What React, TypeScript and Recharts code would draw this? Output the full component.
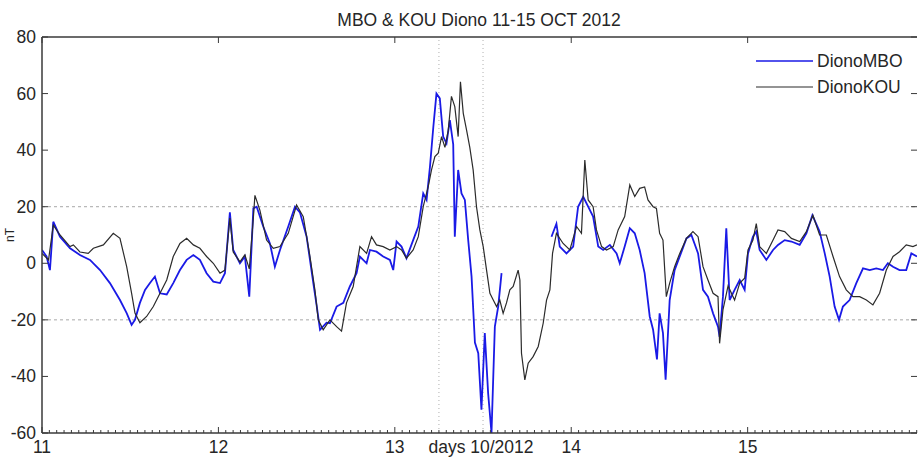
import React from 'react';
import { LineChart, Line, XAxis, YAxis, ReferenceLine } from 'recharts';

const chartTitle = 'MBO & KOU Diono 11-15 OCT 2012';
const xAxisLabel = 'days 10/2012';
const yAxisLabel = 'nT';
const seriesNames = ['DionoMBO', 'DionoKOU'];
const dayTicks = [11, 12, 13, 14, 15];
const yTicks = [-60, -40, -20, 0, 20, 40, 60, 80];
const xDomain = [11, 15.96];
const yDomain = [-60, 80];
const dashedLevels = [20, -20];
const markerDays = [13.25, 13.5];

const mboDays = [
  11.0, 11.026, 11.045, 11.064, 11.102, 11.159, 11.215, 11.272, 11.329, 11.385,
  11.442, 11.48, 11.508, 11.527, 11.555, 11.584, 11.612, 11.64, 11.669, 11.707,
  11.744, 11.782, 11.82, 11.858, 11.895, 11.933, 11.971, 12.009, 12.037, 12.065,
  12.084, 12.122, 12.15, 12.175, 12.198, 12.217, 12.254, 12.292, 12.32, 12.349,
  12.396, 12.434, 12.462, 12.5, 12.538, 12.557, 12.576, 12.613, 12.632, 12.67,
  12.708, 12.745, 12.783, 12.802, 12.84, 12.859, 12.896, 12.934, 12.972, 12.991,
  13.01, 13.038, 13.066, 13.104, 13.133, 13.161, 13.18, 13.199, 13.218, 13.236,
  13.255, 13.274, 13.293, 13.312, 13.331, 13.34, 13.359, 13.378, 13.397, 13.416,
  13.435, 13.454, 13.473, 13.491, 13.51, 13.529, 13.548, 13.567, 13.586, 13.605,
  13.75,
  13.888, 13.916, 13.935, 13.973, 14.011, 14.039, 14.068, 14.096, 14.124, 14.153,
  14.181, 14.219, 14.257, 14.275, 14.303, 14.332, 14.36, 14.388, 14.416, 14.445,
  14.464, 14.486, 14.501, 14.52, 14.535, 14.558, 14.586, 14.615, 14.653, 14.681,
  14.719, 14.747, 14.775, 14.804, 14.832, 14.841, 14.86, 14.879, 14.898, 14.926,
  14.955, 14.983, 15.002, 15.03, 15.049, 15.068, 15.106, 15.144, 15.172, 15.21,
  15.248, 15.295, 15.333, 15.367, 15.408, 15.437, 15.465, 15.493, 15.518, 15.54,
  15.578, 15.616, 15.654, 15.692, 15.729, 15.767, 15.795, 15.824, 15.861, 15.899,
  15.928, 15.96,
];
const mboValues = [
  4.7, 2.4, -2.4, 14.7, 9.4, 5.3, 2.9, 1.2, -2.4, -7,
  -13, -17.6, -21.8, -20, -14, -9.4, -7, -4.7, -10.6, -11,
  -7, -2.4, 1.2, 2.9, 1.2, -3.5, -6.5, -7, -3.5, 18,
  4.7, 0, 2.4, -11.8, 19.4, 20, 13, 7, -1.2, 4.7,
  13, 20, 18, 9.4, -7, -15, -23.5, -21, -21.2, -15.3,
  -14, -8.2, -3.5, 2.4, 0, 4.7, 4.1, 2.4, 1.2, -2.4,
  7.7, 5.9, 1.8, 8.2, 13, 24.7, 22.4, 34, 48, 60,
  58.3, 44.8, 42.4, 50.6, 42, 9.4, 33, 24.7, 22.4, 8.2,
  -4.7, -28, -31.8, -51.8, -24.7, -46, -60, -22.4, -15.3, -3.5,
  null,
  9.4, 14, 5.9, 3.5, 5.9, 20, 23.5, 20, 16.5, 5.9,
  4.7, 6.5, 3.5, 0, 5.9, 12.4, 10.6, 4.7, -3.5, -18.8,
  -23.5, -34, -17.7, -24.7, -41.2, -13, -2.4, 2.4, 8.8, 10,
  3.5, -9.4, -11.8, -17.7, -22.4, -26, -11.8, 12.4, -13, -9.4,
  -5.9, -9.4, 3.5, 9.4, 11.2, 4.7, 1.2, 4.7, 6.5, 8.2,
  7.7, 6.5, 10.6, 17, 11.2, 3.5, -4.7, -15.3, -20, -15.3,
  -13, -7, -1.8, -2.4, -1.8, -2.4, 0, -1.2, -2.4, -2.4,
  3.5, 2.4,
];

const kouDays = [
  11.0, 11.037, 11.064, 11.102, 11.159, 11.178, 11.215, 11.262, 11.291, 11.348,
  11.404, 11.442, 11.48, 11.508, 11.527, 11.555, 11.593, 11.631, 11.669, 11.707,
  11.744, 11.782, 11.82, 11.858, 11.895, 11.933, 11.971, 12.009, 12.037, 12.065,
  12.084, 12.122, 12.15, 12.175, 12.198, 12.207, 12.235, 12.273, 12.311, 12.349,
  12.396, 12.443, 12.481, 12.519, 12.547, 12.566, 12.594, 12.632, 12.67, 12.698,
  12.726, 12.764, 12.802, 12.84, 12.868, 12.896, 12.934, 12.972, 13.01, 13.038,
  13.066, 13.104, 13.133, 13.161, 13.189, 13.208, 13.227, 13.246, 13.265, 13.284,
  13.303, 13.321, 13.34, 13.359, 13.372, 13.388, 13.407, 13.425, 13.444, 13.463,
  13.482, 13.501, 13.52, 13.539, 13.558, 13.577, 13.595, 13.614, 13.633, 13.652,
  13.671, 13.699, 13.709, 13.718, 13.737, 13.756, 13.784, 13.813, 13.841, 13.86,
  13.879, 13.894, 13.916, 13.954, 13.992, 14.03, 14.058, 14.077, 14.096, 14.124,
  14.143, 14.172, 14.2, 14.238, 14.266, 14.303, 14.332, 14.36, 14.388, 14.416,
  14.435, 14.464, 14.483, 14.501, 14.52, 14.539, 14.558, 14.586, 14.615, 14.653,
  14.69, 14.719, 14.747, 14.775, 14.804, 14.832, 14.841, 14.86, 14.889, 14.926,
  14.955, 14.983, 15.002, 15.03, 15.049, 15.068, 15.106, 15.144, 15.172, 15.21,
  15.248, 15.295, 15.333, 15.37, 15.408, 15.446, 15.484, 15.521, 15.559, 15.597,
  15.635, 15.673, 15.71, 15.748, 15.786, 15.824, 15.861, 15.899, 15.937, 15.96,
];
const kouValues = [
  3.5, 1.2, 13.5, 10, 5.9, 6.5, 4, 3.5, 5.3, 6.5,
  10.6, 8.8, -1.2, -10.6, -17.6, -21, -18.8, -15.3, -10.6, -5.9,
  2.4, 7, 8.8, 6.5, 5.3, 2.4, 0, -3.5, -2.4, 16,
  4, 0.5, 3, -2, 16, 24, 18.8, 8.2, 5.3, 5.9,
  10.6, 20.6, 16.5, 2.4, -9.4, -20, -23.5, -20, -22.4, -24,
  -14, -8.2, 5.9, 3.5, 9.4, 6.5, 5.9, 4.7, 5.9, 4.7,
  1.8, 4.7, 9.4, 20, 27, 33, 37.7, 38.9, 44.8, 41,
  47, 59, 55.4, 44.8, 64.2, 53, 47, 41, 33, 20,
  11.8, 5.9, -2.4, -10.6, -13, -15.3, -13, -17.7, -14, -9.4,
  -8.2, -2.4, -5.9, -31.8, -41.2, -35.3, -33, -29.4, -21.2, -13,
  -9.4, 3.5, 10.6, 7, 4.7, 13, 10.6, 36.5, 22.4, 20,
  11.8, 5.9, 4.7, 5.9, 11.8, 16.5, 27.7, 23.6, 26.5, 27,
  22.4, 20, 19.4, 10.6, 8.2, -11.8, -7, -1.2, 3.5, 8.8,
  11.2, 9.4, -1.2, -5.9, -10.6, -11.8, -28.3, -16.5, -8, -13,
  -7, -5.3, 4.7, 8.2, 14, 5.9, 3.5, 8.2, 11.8, 11.2,
  8.8, 7.7, 11.2, 17, 10, 10, 2.4, -4.7, -9.4, -11.8,
  -11.8, -13, -14.7, -10.6, -2.4, 2.4, 4.1, 6.5, 5.9, 6.5,
];

const mboData = mboDays.map((d, i) => ({ day: d, value: mboValues[i] }));
const kouData = kouDays.map((d, i) => ({ day: d, value: kouValues[i] }));

const hourTicks: number[] = [];
for (let h = 0; 11 + h / 24 <= xDomain[1]; h++) hourTicks.push(11 + h / 24);

const FONT = '"Liberation Sans", Arial, sans-serif';
const TEXT = '#262626';
const AXIS = '#3a3a3a';
const BLUE = '#1a1ae6';
const DARK = '#2b2b2b';

const BottomTick = (props: any) => {
  const { x, y, payload } = props;
  const v = payload.value;
  const major = Math.abs(v - Math.round(v)) < 1e-6;
  return (
    <g>
      <line x1={x} x2={x} y1={y} y2={y - (major ? 6 : 3)} stroke={AXIS} strokeWidth={1} />
      {major && (
        <text x={x} y={y + 20} textAnchor="middle" fontSize={17.5} fontFamily={FONT} fill={TEXT}>
          {Math.round(v)}
        </text>
      )}
    </g>
  );
};

const TopTick = (props: any) => {
  const { x, y } = props;
  return <line x1={x} x2={x} y1={y} y2={y + 6} stroke={AXIS} strokeWidth={1} />;
};

const LeftTick = (props: any) => {
  const { x, y, payload } = props;
  return (
    <g>
      <line x1={x} x2={x + 6} y1={y} y2={y} stroke={AXIS} strokeWidth={1} />
      <text x={x - 6} y={y + 6} textAnchor="end" fontSize={17.5} fontFamily={FONT} fill={TEXT}>
        {payload.value}
      </text>
    </g>
  );
};

const RightTick = (props: any) => {
  const { x, y } = props;
  return <line x1={x} x2={x - 6} y1={y} y2={y} stroke={AXIS} strokeWidth={1} />;
};

export default function App() {
  return (
    <div style={{ position: 'absolute', left: 0, top: 0, width: 918, height: 459, background: '#fff' }}>
      <LineChart width={918} height={459} margin={{ top: 27, right: 0, bottom: 0, left: 0 }}>
        <XAxis
          xAxisId="bottom"
          type="number"
          dataKey="day"
          domain={xDomain}
          allowDataOverflow
          ticks={hourTicks}
          interval={0}
          tick={<BottomTick />}
          tickLine={false}
          tickSize={0}
          tickMargin={0}
          height={26}
          axisLine={{ stroke: AXIS, strokeWidth: 1.5 }}
        />
        <XAxis
          xAxisId="top"
          orientation="top"
          type="number"
          dataKey="day"
          domain={xDomain}
          allowDataOverflow
          ticks={dayTicks}
          interval={0}
          tick={<TopTick />}
          tickLine={false}
          tickSize={0}
          tickMargin={0}
          height={10}
          axisLine={{ stroke: AXIS, strokeWidth: 1.5 }}
        />
        <YAxis
          yAxisId="left"
          type="number"
          domain={yDomain}
          allowDataOverflow
          ticks={yTicks}
          interval={0}
          tick={<LeftTick />}
          tickLine={false}
          tickSize={0}
          tickMargin={0}
          width={42}
          axisLine={{ stroke: AXIS, strokeWidth: 1.5 }}
        />
        <YAxis
          yAxisId="right"
          orientation="right"
          type="number"
          domain={yDomain}
          allowDataOverflow
          ticks={yTicks}
          interval={0}
          tick={<RightTick />}
          tickLine={false}
          tickSize={0}
          tickMargin={0}
          width={1}
          axisLine={false}
        />
        {dashedLevels.map((lv) => (
          <ReferenceLine key={'h' + lv} y={lv} xAxisId="bottom" yAxisId="left" stroke="#a8a8a8" strokeDasharray="3 3" />
        ))}
        {markerDays.map((d) => (
          <ReferenceLine key={'v' + d} x={d} xAxisId="bottom" yAxisId="left" stroke="#b0b0b0" strokeDasharray="1 3" />
        ))}
        <Line
          xAxisId="bottom"
          yAxisId="left"
          data={mboData}
          dataKey="value"
          name={seriesNames[0]}
          type="linear"
          stroke={BLUE}
          strokeWidth={1.8}
          dot={false}
          connectNulls={false}
          isAnimationActive={false}
        />
        <Line
          xAxisId="bottom"
          yAxisId="left"
          data={kouData}
          dataKey="value"
          name={seriesNames[1]}
          type="linear"
          stroke={DARK}
          strokeWidth={1.2}
          dot={false}
          isAnimationActive={false}
        />
      </LineChart>
      <svg width={918} height={459} style={{ position: 'absolute', left: 0, top: 0, pointerEvents: 'none' }}>
        <text x={479} y={26} textAnchor="middle" fontSize={17.5} fontFamily={FONT} fill={TEXT}>
          {chartTitle}
        </text>
        <text x={481} y={453} textAnchor="middle" fontSize={17.5} fontFamily={FONT} fill={TEXT}>
          {xAxisLabel}
        </text>
        <text x={14} y={235} textAnchor="middle" fontSize={12} fontFamily={FONT} fill={TEXT} transform="rotate(-90 14 235)">
          {yAxisLabel}
        </text>
        <line x1={756} x2={813} y1={61} y2={61} stroke={BLUE} strokeWidth={1.6} />
        <text x={817} y={67} fontSize={17.5} fontFamily={FONT} fill={TEXT}>{seriesNames[0]}</text>
        <line x1={756} x2={813} y1={87} y2={87} stroke={DARK} strokeWidth={1.2} />
        <text x={817} y={93} fontSize={17.5} fontFamily={FONT} fill={TEXT}>{seriesNames[1]}</text>
      </svg>
    </div>
  );
}
